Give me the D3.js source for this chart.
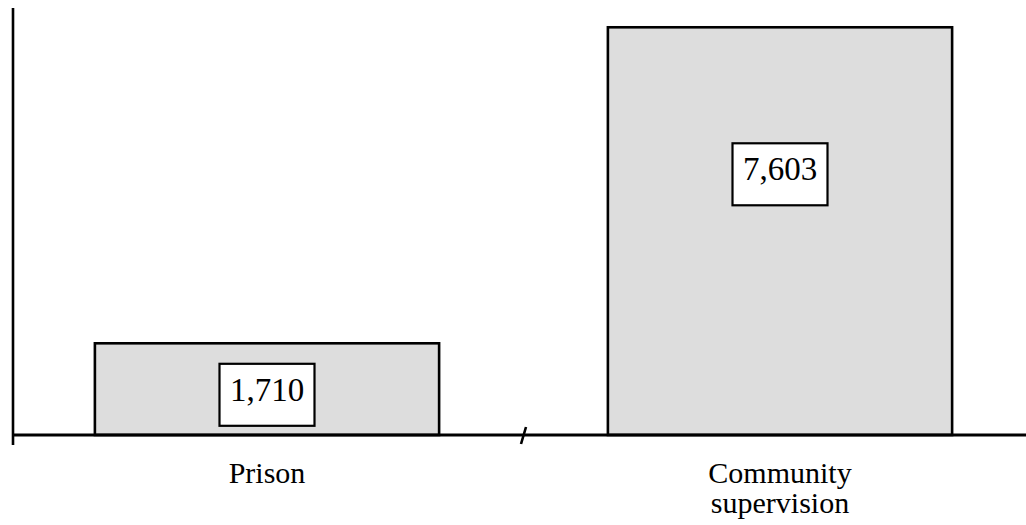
<!DOCTYPE html>
<html>
<head>
<meta charset="utf-8">
<script src="https://cdn.jsdelivr.net/npm/d3@7/dist/d3.min.js"></script>
<style>
  html, body { margin: 0; padding: 0; background: #fff; }
  svg { display: block; }
  text { font-family: "Liberation Serif", "Times New Roman", serif; fill: #000; }
</style>
</head>
<body>
<svg id="chart" width="1026" height="525"></svg>
<script>
const categories = ["Prison", "Community supervision"];
const categoryLines = [["Prison"], ["Community", "supervision"]];
const values = [1710, 7603];
const valueLabels = ["1,710", "7,603"];

const W = 1026, H = 525;
const svg = d3.select("#chart");

const x = d3.scaleBand()
  .domain(categories)
  .range([10.5, 1036.5])
  .paddingInner(0.329)
  .paddingOuter(0.1645);

const y = d3.scaleLinear()
  .domain([0, 8000])
  .range([435, 6]);

// bars
svg.selectAll("rect.bar")
  .data(values)
  .join("rect")
  .attr("class", "bar")
  .attr("x", (d, i) => x(categories[i]))
  .attr("y", d => y(d))
  .attr("width", x.bandwidth())
  .attr("height", d => y(0) - y(d))
  .attr("fill", "#dddddd")
  .attr("stroke", "#000")
  .attr("stroke-width", 2.6);

// x axis baseline
svg.append("line")
  .attr("x1", 12).attr("x2", W)
  .attr("y1", y(0)).attr("y2", y(0))
  .attr("stroke", "#000").attr("stroke-width", 3);

// y axis
svg.append("line")
  .attr("x1", 13).attr("x2", 13)
  .attr("y1", 8).attr("y2", y(0) + 10)
  .attr("stroke", "#000").attr("stroke-width", 2.6);

// break mark on x axis
const mid = (x(categories[0]) + x.bandwidth() + x(categories[1])) / 2;
svg.append("line")
  .attr("x1", mid - 2.5).attr("y1", y(0) + 9)
  .attr("x2", mid + 2.5).attr("y2", y(0) - 8)
  .attr("stroke", "#000").attr("stroke-width", 2.6);

// value boxes
const labelOffsets = [51.5, 147];
const boxW = 95, boxH = 62;
const lbl = svg.selectAll("g.vlabel")
  .data(values)
  .join("g")
  .attr("class", "vlabel")
  .attr("transform", (d, i) => `translate(${x(categories[i]) + x.bandwidth() / 2},${y(d) + labelOffsets[i]})`);
lbl.append("rect")
  .attr("x", -boxW / 2).attr("y", -boxH / 2)
  .attr("width", boxW).attr("height", boxH)
  .attr("fill", "#fff").attr("stroke", "#000").attr("stroke-width", 2.2);
lbl.append("text")
  .attr("text-anchor", "middle")
  .attr("y", 6)
  .attr("font-size", 33)
  .text((d, i) => valueLabels[i]);

// category labels
const cat = svg.selectAll("text.cat")
  .data(categories)
  .join("text")
  .attr("class", "cat")
  .attr("text-anchor", "middle")
  .attr("font-size", 30)
  .attr("x", d => x(d) + x.bandwidth() / 2)
  .attr("y", 483);
cat.selectAll("tspan")
  .data((d, i) => categoryLines[i])
  .join("tspan")
  .attr("x", function() { return d3.select(this.parentNode).attr("x"); })
  .attr("dy", (d, j) => j === 0 ? 0 : 30)
  .text(d => d);
</script>
</body>
</html>
